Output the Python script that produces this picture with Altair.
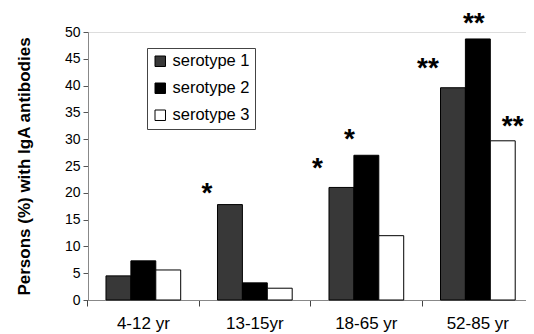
import altair as alt
import pandas as pd

groups = ["4-12 yr", "13-15yr", "18-65 yr", "52-85 yr"]
serotypes = ["serotype 1", "serotype 2", "serotype 3"]
s1 = [4.5, 17.8, 21.0, 39.6]
s2 = [7.3, 3.2, 27.0, 48.7]
s3 = [5.6, 2.2, 12.0, 29.7]

star_groups = ["13-15yr", "18-65 yr", "18-65 yr", "52-85 yr", "52-85 yr", "52-85 yr"]
star_serotypes = ["serotype 1", "serotype 1", "serotype 2", "serotype 1", "serotype 2", "serotype 3"]
star_labels = ["*", "*", "*", "**", "**", "**"]
star_dx = [-23, -24, -17, -25, -4, 10]
star_dy = [-16, -23, -20, -24, -20, -19]

rows = []
for i, g in enumerate(groups):
    for s, vals in zip(serotypes, [s1, s2, s3]):
        rows.append({"group": g, "serotype": s, "value": vals[i]})
df = pd.DataFrame(rows)

FONT = "Liberation Sans"

x_enc = alt.X(
    "group:N", sort=groups,
    scale=alt.Scale(paddingInner=0.33, paddingOuter=0.129, align=0.625),
    axis=alt.Axis(title=None, labelAngle=0, bandPosition=-0.246, tickSize=6,
                  tickColor="#444", tickWidth=1, domainColor="#888", labelFontSize=17,
                  labelColor="black", labelFont=FONT, labelPadding=9),
)
xo_enc = alt.XOffset("serotype:N", sort=serotypes)
y_enc = alt.Y(
    "value:Q",
    scale=alt.Scale(domain=[0, 50], nice=False),
    axis=alt.Axis(values=list(range(0, 51, 5)), title="Persons (%) with IgA antibodies",
                  titleFont=FONT, titleFontSize=17, titleFontWeight="bold",
                  titleColor="black", titlePadding=31, grid=False,
                  tickSize=5, tickColor="#555", domainColor="#888",
                  labelFont=FONT, labelFontSize=14, labelColor="black", labelPadding=3),
)

bars = alt.Chart(df).mark_bar(stroke="black", strokeWidth=1).encode(
    x=x_enc,
    xOffset=xo_enc,
    y=y_enc,
    fill=alt.Fill(
        "serotype:N",
        scale=alt.Scale(domain=serotypes, range=["#383838", "#000000", "#ffffff"]),
        legend=alt.Legend(
            title=None, orient="none", legendX=59, legendY=16,
            symbolType="square", symbolSize=110, symbolStrokeColor="black",
            symbolStrokeWidth=1, labelFont=FONT, labelFontSize=16.5,
            labelColor="black", rowPadding=10, padding=5,
            strokeColor="#444", labelOffset=4,
        ),
    ),
)

layers = [bars]
for g, s, lab, dx, dy in zip(star_groups, star_serotypes, star_labels, star_dx, star_dy):
    sub = df[(df["group"] == g) & (df["serotype"] == s)].copy()
    sub["label"] = lab
    layers.append(
        alt.Chart(sub).mark_text(
            font=FONT, fontSize=28, fontWeight="bold", color="black",
            baseline="alphabetic", align="center", dx=dx, dy=dy + 13,
        ).encode(x=x_enc, xOffset=xo_enc, y=y_enc, text="label:N")
    )

chart = alt.layer(*layers).properties(
    width=438, height=268,
    autosize=alt.AutoSizeParams(type="none"),
    padding={"left": 80, "top": 24, "right": 0, "bottom": 34},
).configure_view(stroke=None).configure(background="white")

chart.save("out.html", embed_options={"renderer": "svg", "actions": False})
